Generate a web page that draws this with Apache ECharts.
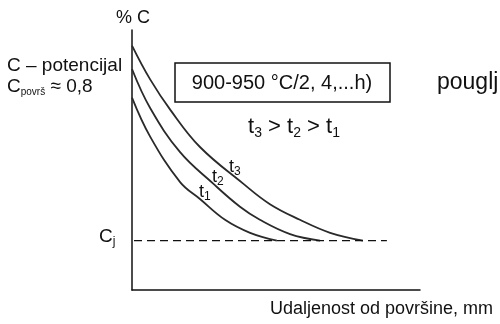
<!DOCTYPE html>
<html>
<head>
<meta charset="utf-8">
<script src="https://cdn.jsdelivr.net/npm/echarts@6/dist/echarts.min.js"></script>
<style>
  html, body { margin: 0; padding: 0; background: #fff; }
  #main { width: 500px; height: 324px; }
</style>
</head>
<body>
<div id="main"></div>
<script>
// udaljenost od površine (mm) i % C za svaku krivulju
var t3X = [0, 0.63, 1.35, 2.36, 3.85, 4.79, 5.83, 6.88, 8.02];
var t3Y = [0.94, 0.81, 0.69, 0.55, 0.41, 0.33, 0.27, 0.22, 0.19];
var t2X = [0, 0.63, 1.67, 2.81, 3.75, 4.44, 5.49, 6.53];
var t2Y = [0.85, 0.70, 0.53, 0.41, 0.32, 0.27, 0.215, 0.19];
var t1X = [0, 0.63, 1.67, 2.36, 3.23, 4.10, 5.03];
var t1Y = [0.74, 0.59, 0.415, 0.35, 0.27, 0.22, 0.19];
var cjLevel = 0.19;
var cjX = [0.07, 8.85];

function pairs(xs, ys) {
  return xs.map(function (x, i) { return [x, ys[i]]; });
}

// tekst s indeksom (t3, Cj ...)
function subRich(size, subSize, lh) {
  return {
    a: { fontSize: size, fontFamily: font, lineHeight: lh },
    s: { fontSize: subSize, fontFamily: font, lineHeight: lh, padding: [Math.round(size * 0.55), 0, 0, 0] }
  };
}

var font = 'Liberation Sans, Arial, sans-serif';
var ink = '#111';
var curveStyle = { color: '#2a2a2a', width: 1.8 };

var chart = echarts.init(document.getElementById('main'));

var option = {
  animation: false,
  grid: { left: 132, right: 80, top: 30, bottom: 34 },
  xAxis: {
    type: 'value',
    min: 0,
    max: 10,
    axisLine: { show: true, lineStyle: { color: '#111', width: 1.5 } },
    axisTick: { show: false },
    axisLabel: { show: false },
    splitLine: { show: false }
  },
  yAxis: {
    type: 'value',
    min: 0,
    max: 1,
    axisLine: { show: true, lineStyle: { color: '#111', width: 1.5 } },
    axisTick: { show: false },
    axisLabel: { show: false },
    splitLine: { show: false }
  },
  series: [
    {
      name: 't3', type: 'line', smooth: 0.4, symbol: 'none',
      lineStyle: curveStyle, data: pairs(t3X, t3Y)
    },
    {
      name: 't2', type: 'line', smooth: 0.4, symbol: 'none',
      lineStyle: curveStyle, data: pairs(t2X, t2Y)
    },
    {
      name: 't1', type: 'line', smooth: 0.4, symbol: 'none',
      lineStyle: curveStyle, data: pairs(t1X, t1Y)
    },
    {
      name: 'Cj', type: 'line', symbol: 'none',
      lineStyle: { color: '#111', width: 1.3, type: [8, 5] },
      data: cjX.map(function (x) { return [x, cjLevel]; })
    }
  ],
  graphic: [
    {
      type: 'text', left: 116, top: 9,
      style: { text: '% C', font: '18px ' + font, fill: ink }
    },
    {
      type: 'text', left: 7, top: 56,
      style: { text: 'C – potencijal', font: '19px ' + font, fill: ink }
    },
    {
      type: 'text', left: 7, top: 77,
      style: { text: '{a|C}{s|površ}{a| ≈ 0,8}', fill: ink, rich: subRich(19, 10, 22) }
    },
    {
      type: 'text', left: 99, top: 226,
      style: { text: '{a|C}{s|j}', fill: ink, rich: subRich(19, 12, 22) }
    },
    {
      type: 'rect',
      shape: { x: 175, y: 63, width: 215, height: 39 },
      style: { fill: '#fff', stroke: '#111', lineWidth: 1.5 }
    },
    {
      type: 'text', x: 282, y: 83,
      style: {
        text: '900-950 °C/2, 4,...h)', font: '20px ' + font, fill: ink,
        align: 'center', verticalAlign: 'middle'
      }
    },
    {
      type: 'text', x: 437, y: 83,
      style: { text: 'pougljičenje', font: '23px ' + font, fill: ink, verticalAlign: 'middle' }
    },
    {
      type: 'text', x: 294, y: 127,
      style: {
        text: '{a|t}{s|3}{a| > t}{s|2}{a| > t}{s|1}',
        fill: ink, align: 'center', verticalAlign: 'middle',
        rich: subRich(22, 14, 26)
      }
    },
    {
      type: 'text', left: 229, top: 156,
      style: { text: '{a|t}{s|3}', fill: ink, rich: subRich(18, 12, 20) }
    },
    {
      type: 'text', left: 212, top: 166,
      style: { text: '{a|t}{s|2}', fill: ink, rich: subRich(18, 12, 20) }
    },
    {
      type: 'text', left: 199, top: 181,
      style: { text: '{a|t}{s|1}', fill: ink, rich: subRich(18, 12, 20) }
    },
    {
      type: 'text', left: 270, top: 300,
      style: { text: 'Udaljenost od površine, mm', font: '18px ' + font, fill: ink }
    }
  ]
};

chart.setOption(option);
</script>
</body>
</html>
